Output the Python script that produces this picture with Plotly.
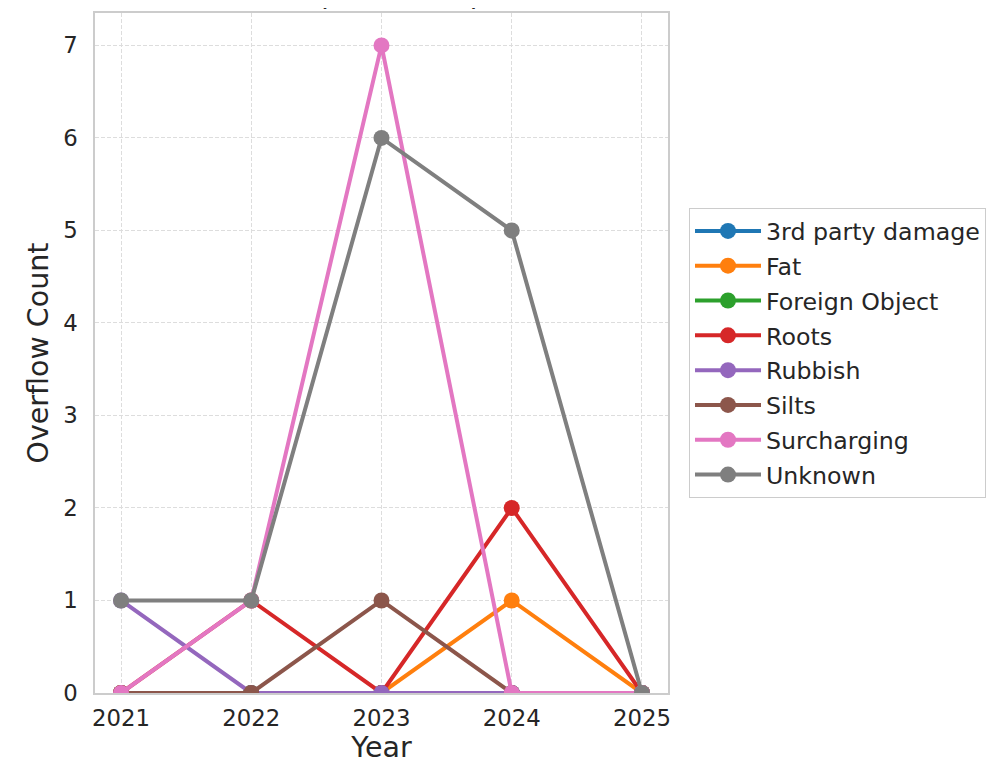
import plotly.graph_objects as go

years = [2021, 2022, 2023, 2024, 2025]
causes = ["3rd party damage", "Fat", "Foreign Object", "Roots", "Rubbish",
          "Silts", "Surcharging", "Unknown"]
third_party = [0, 0, 0, 0, 0]
fat = [0, 0, 0, 1, 0]
foreign_object = [0, 0, 0, 0, 0]
roots = [0, 1, 0, 2, 0]
rubbish = [1, 0, 0, 0, 0]
silts = [0, 0, 1, 0, 0]
surcharging = [0, 1, 7, 0, 0]
unknown = [1, 1, 6, 5, 0]
series = [third_party, fat, foreign_object, roots, rubbish, silts, surcharging, unknown]
colors = ["#1f77b4", "#ff7f0e", "#2ca02c", "#d62728", "#9467bd",
          "#8c564b", "#e377c2", "#7f7f7f"]
y_ticks = [0, 1, 2, 3, 4, 5, 6, 7]

fig = go.Figure()
for name, vals, col in zip(causes, series, colors):
    fig.add_trace(go.Scatter(
        x=years, y=vals, name=name, mode="lines+markers",
        line=dict(color=col, width=4),
        marker=dict(color=col, size=16),
        legendgroup=name, cliponaxis=True,
    ))

OFF = 8  # page body margin
W, H = 1001 - OFF, 769 - OFF
L, R, T, B = 95 - OFF, 668 - OFF, 13 - OFF, 693 - OFF
text_col = "#262626"
fig.update_layout(
    width=W, height=H,
    margin=dict(l=L, r=W - R, t=T, b=H - B, pad=0, autoexpand=False),
    paper_bgcolor="white", plot_bgcolor="white",
    font=dict(family="DejaVu Sans", color=text_col, size=23),
    showlegend=True,
    legend=dict(x=(689 - OFF - L) / (R - L), xanchor="left",
                y=(B - (208 - OFF)) / (B - T), yanchor="top",
                bgcolor="white", bordercolor="#cccccc", borderwidth=1,
                font=dict(size=23.7, color=text_col),
                tracegroupgap=1, traceorder="grouped", itemwidth=66),
)
fig.add_annotation(
    text="Overflows per Cause per Year", showarrow=False,
    xref="paper", x=0.5, xanchor="center", xshift=-3,
    yref="paper", y=1 + 2 / (B - T), yanchor="bottom",
    font=dict(size=27.6, color=text_col), borderpad=0,
)
fig.update_xaxes(
    range=[2020.8, 2025.2], tickvals=years, ticktext=[str(y) for y in years],
    showgrid=True, gridcolor="#dddddd", griddash="4px,2px", gridwidth=1,
    showline=True, linecolor="#cccccc", linewidth=1.5, mirror=True,
    zeroline=False, ticks="", ticklabelstandoff=4, automargin=False,
    title=dict(text="Year", font=dict(size=28.5, color=text_col), standoff=5),
    tickfont=dict(size=22.8, color=text_col),
)
fig.update_yaxes(
    range=[0, 7.35], tickvals=y_ticks,
    showgrid=True, gridcolor="#dddddd", griddash="4px,2px", gridwidth=1,
    showline=True, linecolor="#cccccc", linewidth=1.5, mirror=True,
    zeroline=False, ticks="", ticklabelstandoff=11, automargin=False,
    title=dict(text="Overflow Count", font=dict(size=28.5, color=text_col), standoff=6),
    tickfont=dict(size=22.8, color=text_col),
)
fig.write_html("out.html")
